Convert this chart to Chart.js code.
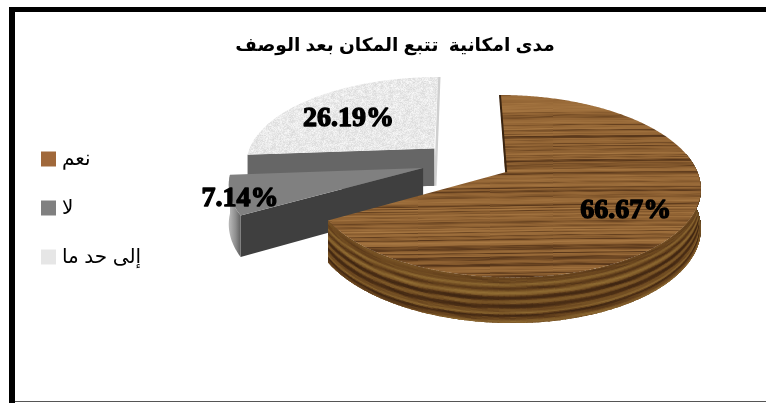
<!DOCTYPE html>
<html lang="ar">
<head>
<meta charset="utf-8">
<title>مدى امكانية تتبع المكان بعد الوصف</title>
<script src="https://cdn.jsdelivr.net/npm/chart.js@4/dist/chart.umd.min.js"></script>
<style>
  html, body { margin: 0; padding: 0; background: #fff; overflow: hidden; }
  canvas { display: block; }
</style>
</head>
<body>
<canvas id="pie" width="766" height="403"></canvas>
<script>
const chartTitle = 'مدى امكانية  تتبع المكان بعد الوصف';
const categories = ['نعم', 'لا', 'إلى حد ما'];
const shareValues = [66.67, 7.14, 26.19];
const labelReach = [0.705, 0.958, 0.635];   // label distance from the slice apex, in radii
const labelTurn = [5.3, -3, -5];            // label bearing relative to the slice middle, degrees
const swatchColors = ['#a0683a', '#808080', '#e6e6e6'];
const wallColors = [null, '#3f3f3f', '#666666'];
const paintOrder = [2, 1, 0];               // far slices first

// Tilted-disc camera: unit-radius disc seen in perspective from the front.
const cam = { cx: 466, cy: 162, rx: 189, ry: 86, persp: 0.15, burst: 0.235, depth: 38 };

function project(X, Y, z) {
  const f = 1 / (1 - cam.persp * Y);
  return { x: cam.cx + cam.rx * X * f, y: cam.cy + cam.ry * Y * f + (z || 0) * f };
}

// Smooth deterministic noise for the material textures.
function hash(n) { const s = Math.sin(n * 127.1 + 11.7) * 43758.5453; return s - Math.floor(s); }
function noise(v) {
  const i = Math.floor(v), t = v - i, k = t * t * (3 - 2 * t);
  return hash(i) * (1 - k) + hash(i + 1) * k;
}
function ramp(stops, v) {
  v = Math.min(1, Math.max(0, v));
  for (let i = 1; i < stops.length; i++) {
    if (v <= stops[i][0]) {
      const a = stops[i - 1], b = stops[i], k = (v - a[0]) / (b[0] - a[0]);
      return [0, 1, 2].map(c => a[1][c] + (b[1][c] - a[1][c]) * k);
    }
  }
  return stops[stops.length - 1][1];
}

const woodStops = [[0, [62, 36, 18]], [0.3, [98, 62, 30]], [0.44, [126, 84, 42]], [0.6, [146, 100, 52]], [1, [170, 122, 68]]];
const edgeStops = [[0, [50, 30, 16]], [0.36, [78, 48, 22]], [0.55, [108, 72, 32]], [1, [146, 110, 52]]];

function makeTile(w, h, shade) {
  const c = document.createElement('canvas');
  c.width = w; c.height = h;
  const g = c.getContext('2d');
  const img = g.createImageData(w, h);
  for (let y = 0; y < h; y++) {
    for (let x = 0; x < w; x++) {
      const rgb = shade(x, y), p = (y * w + x) * 4;
      img.data[p] = rgb[0]; img.data[p + 1] = rgb[1]; img.data[p + 2] = rgb[2]; img.data[p + 3] = 255;
    }
  }
  g.putImageData(img, 0, 0);
  return g.createPattern(c, 'repeat');
}

const woodFill = makeTile(766, 403, (x, y) => {
  const u = y + x * 0.012 + 1.4 * noise(x / 80 + 7);
  const streak = noise(x / 24 + Math.floor(u) * 3.7) - 0.5;
  const v = 0.5 * noise(u / 1.25) + 0.32 * noise(u / 3 + 50) + 0.18 * noise(u / 8 + 90) + 0.2 * streak;
  return ramp(woodStops, v + 0.07);
});
const stoneFill = makeTile(256, 256, (x, y) => {
  const s = Math.sin(x * 12.9898 + y * 78.233) * 43758.5453;
  const n = 0.65 * (s - Math.floor(s)) + 0.35 * noise(x / 3.1 + Math.floor(y / 3) * 5.3);
  const l = 216 + 34 * n;
  return [l, l, l];
});
const greyFill = '#808080';
const sliceFills = [woodFill, greyFill, stoneFill];

// One slice of the exploded disc, in disc coordinates, from the arc the library laid out.
function sliceGeometry(arc) {
  const a = arc.startAngle + Math.PI / 2, b = arc.endAngle + Math.PI / 2, m = (a + b) / 2;
  const ox = cam.burst * Math.sin(m), oy = -cam.burst * Math.cos(m);
  const at = (t, r, z) => project(ox + r * Math.sin(t), oy - r * Math.cos(t), z);
  return { a, b, m, at };
}
function traceRim(ctx, s, t0, t1, z, reverse) {
  const n = Math.max(2, Math.ceil(Math.abs(t1 - t0) / 0.01));
  for (let i = 0; i <= n; i++) {
    const k = reverse ? 1 - i / n : i / n;
    const p = s.at(t0 + (t1 - t0) * k, 1, z);
    ctx.lineTo(p.x, p.y);
  }
}
function fillWall(ctx, s, t, color) {
  const c0 = s.at(t, 0, 0), e0 = s.at(t, 1, 0), e1 = s.at(t, 1, cam.depth), c1 = s.at(t, 0, cam.depth);
  ctx.beginPath();
  ctx.moveTo(c0.x, c0.y); ctx.lineTo(e0.x, e0.y); ctx.lineTo(e1.x, e1.y); ctx.lineTo(c1.x, c1.y);
  ctx.closePath();
  ctx.fillStyle = color;
  ctx.fill();
}
function rimRegion(ctx, s, t0, t1) {
  ctx.beginPath();
  traceRim(ctx, s, t0, t1, 0, false);
  traceRim(ctx, s, t0, t1, cam.depth, true);
  ctx.closePath();
}
// Plywood-like bands following the curve of the rim.
function paintWoodRim(ctx, s, t0, t1) {
  ctx.save();
  rimRegion(ctx, s, t0, t1);
  ctx.clip();
  const step = 0.025;
  ctx.lineWidth = 2.4;
  for (let z = 0; z <= cam.depth + 1; z += 1) {
    for (let t = t0; t < t1; t += step) {
      const bend = z + 1.6 * Math.sin(t * 2.6 + 0.4) + 1.2 * noise(t * 3 + 9);
      const layer = 0.5 + 0.5 * Math.sin(bend * 0.82 + 1.2);
      const v = 0.42 * layer + 0.46 * noise(bend / 1.7 + 5) + 0.16 * (noise(t * 24 + z) - 0.5) + 0.08;
      const fade = t < 1.9 ? 0.72 + 0.28 * (t - t0) / (1.9 - t0) : 1;
      const c = ramp(edgeStops, v).map(k => Math.round(k * fade));
      const p = s.at(t, 1, z), q = s.at(t + step * 1.2, 1, z);
      ctx.strokeStyle = `rgb(${c[0]},${c[1]},${c[2]})`;
      ctx.beginPath(); ctx.moveTo(p.x, p.y); ctx.lineTo(q.x, q.y); ctx.stroke();
    }
  }
  ctx.restore();
}
function paintFlatRim(ctx, s, t0, t1) {
  const l = s.at(t1, 1, 0), r = s.at(t0, 1, cam.depth);
  const g = ctx.createLinearGradient(l.x, 0, r.x, 0);
  g.addColorStop(0, '#b4b4b4');
  g.addColorStop(0.55, '#8c8c8c');
  g.addColorStop(1, '#5f5f5f');
  rimRegion(ctx, s, t0, t1);
  ctx.fillStyle = g;
  ctx.fill();
}
function paintTop(ctx, s, fill) {
  const c = s.at(0, 0, 0);
  ctx.beginPath();
  ctx.moveTo(c.x, c.y);
  traceRim(ctx, s, s.a, s.b, 0, false);
  ctx.closePath();
  ctx.fillStyle = fill;
  ctx.fill();
}

const tiltedPie = {
  id: 'tiltedPie',
  beforeDraw(chart) {
    // Heavy page frame: left and top bars, hairline along the bottom.
    const ctx = chart.ctx;
    ctx.save();
    ctx.fillStyle = '#fff';
    ctx.fillRect(0, 0, chart.width, chart.height);
    ctx.fillStyle = '#000';
    ctx.fillRect(9, 7, chart.width - 9, 5);
    ctx.fillRect(9, 7, 6, chart.height - 7);
    ctx.fillStyle = '#555';
    ctx.fillRect(15, 401, chart.width - 15, 1);
    ctx.restore();
  },
  afterLayout(chart) {
    // Title sits right of centre, legend hangs beside the pie.
    chart.titleBlock.left += 24;
    const lg = chart.legend, pad = lg.options.labels.padding;
    lg.left = 45 - pad;
    lg.right = 200;
    lg.top = 149 - pad;
    lg.bottom = chart.height;
  },
  beforeDatasetDraw() { return false; },   // slices are painted below, in perspective
  afterDatasetsDraw(chart) {
    const ctx = chart.ctx, arcs = chart.getDatasetMeta(0).data;
    ctx.save();
    ctx.lineJoin = 'round';
    paintOrder.forEach(i => {
      const s = sliceGeometry(arcs[i]);
      if (wallColors[i]) fillWall(ctx, s, s.a, wallColors[i]);
      if (i === 0) {
        paintWoodRim(ctx, s, Math.max(s.a, 1.35), s.b);
      } else if (i === 1) {
        paintFlatRim(ctx, s, s.a, s.b);
      } else {
        // pale sliver along the straight back edge
        const t = s.at(s.b, 1, 0), c = s.at(s.b, 0, cam.depth);
        ctx.strokeStyle = '#cfcfcf'; ctx.lineWidth = 2.5;
        ctx.beginPath(); ctx.moveTo(t.x + 1, t.y); ctx.lineTo(c.x + 1, c.y); ctx.stroke();
        fillWall(ctx, s, s.a, wallColors[i]);
      }
      paintTop(ctx, s, sliceFills[i]);
      if (i === 0) {
        const t = s.at(s.a, 1, 0), c = s.at(s.a, 0, 0);
        ctx.strokeStyle = '#3a2410'; ctx.lineWidth = 2;
        ctx.beginPath(); ctx.moveTo(t.x, t.y); ctx.lineTo(c.x + 1, c.y); ctx.stroke();
      }
    });
    // Percentage labels, taken from the same values as the slices.
    ctx.fillStyle = '#000';
    ctx.strokeStyle = '#000';
    ctx.lineWidth = 1.4;
    ctx.font = 'bold 28px "Liberation Serif"';
    ctx.textAlign = 'center';
    ctx.textBaseline = 'middle';
    shareValues.forEach((v, i) => {
      const s = sliceGeometry(arcs[i]);
      const p = s.at(s.m + labelTurn[i] * Math.PI / 180, labelReach[i], 0);
      const text = v.toFixed(2) + '%';
      ctx.fillText(text, p.x, p.y);
      ctx.strokeText(text, p.x, p.y);
    });
    ctx.restore();
  }
};

new Chart(document.getElementById('pie'), {
  type: 'pie',
  data: {
    labels: categories,
    datasets: [{
      data: shareValues,
      backgroundColor: swatchColors,
      borderColor: swatchColors,
      borderWidth: 8
    }]
  },
  plugins: [tiltedPie],
  options: {
    responsive: false,
    animation: false,
    layout: { padding: { top: 12 } },
    plugins: {
      tooltip: { enabled: false },
      title: {
        display: true,
        text: chartTitle,
        color: '#000',
        font: { family: '"Liberation Sans", "DejaVu Sans", sans-serif', size: 18.6, weight: 'bold' },
        padding: { top: 23, bottom: 8 }
      },
      legend: {
        position: 'left',
        align: 'start',
        labels: {
          boxWidth: 7,
          boxHeight: 7,
          padding: 29,
          color: '#000',
          font: { family: '"Liberation Sans", "DejaVu Sans", sans-serif', size: 20 }
        }
      }
    }
  }
});
</script>
</body>
</html>
